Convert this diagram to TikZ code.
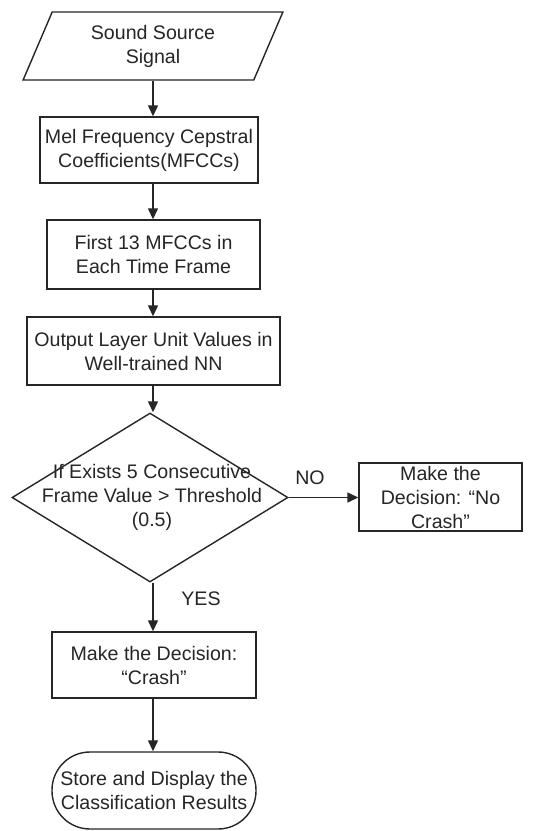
\documentclass[tikz,border=0pt]{standalone}
\usepackage{fontspec}
\setmainfont{Liberation Sans}
\usetikzlibrary{shapes.geometric,arrows.meta}
\definecolor{ink}{HTML}{262626}
\begin{document}
\begin{tikzpicture}[x=1pt,y=-1pt,
  every node/.style={font=\fontsize{19.6}{24}\selectfont, text=ink, align=center},
  procbox/.style={draw=ink, line width=1.4pt, rectangle, inner sep=0pt},
  flow/.style={draw=ink, line width=1.4pt, -{Triangle[length=11pt,width=10pt]}},
  lbl/.style={inner sep=0pt}]
  \useasboundingbox (0,0) rectangle (533,831);
  \fill[white] (0,0) rectangle (533,831);
  \coordinate (axis) at (153,0);

  \node[draw=ink, line width=1.4pt, trapezium, trapezium left angle=67,
        trapezium right angle=113, trapezium stretches=true,
        minimum width=260pt, minimum height=68pt, inner sep=0pt]
        (src) at (153,46) {Sound Source\\Signal};
  \node[procbox, minimum width=218pt, minimum height=66pt] (mfcc) at (149,150)
        {Mel Frequency Cepstral\\Coefficients(MFCCs)};
  \node[procbox, minimum width=213pt, minimum height=69pt] (first) at (153.5,254.5)
        {First 13 MFCCs in\\Each Time Frame};
  \node[procbox, minimum width=253pt, minimum height=68pt] (out) at (153.5,351)
        {Output Layer Unit Values in\\Well-trained NN};
  \node[draw=ink, line width=1.4pt, diamond, minimum width=276pt, minimum height=169pt,
        inner sep=0pt] (dec) at (150,497.5) {};
  \node[lbl] (dectext) at (152,497) {If Exists 5 Consecutive\\Frame Value > Threshold\\(0.5)};
  \node[procbox, minimum width=163pt, minimum height=68pt] (nocrash) at (440.5,497)
        {Make the\\Decision: “No\\Crash”};
  \node[procbox, minimum width=204pt, minimum height=66pt] (crash) at (154,665)
        {Make the Decision:\\“Crash”};
  \node[draw=ink, line width=1.4pt, rectangle, rounded corners=38pt,
        minimum width=204pt, minimum height=77pt, inner sep=0pt] (store) at (154,790.5)
        {Store and Display the\\Classification Results};

  \node[lbl] (no) at (310,478) {NO};
  \node[lbl] (yes) at (201,599) {YES};

  \draw[flow] (src.south -| axis) -- (mfcc.north -| axis);
  \draw[flow] (mfcc.south -| axis) -- (first.north -| axis);
  \draw[flow] (first.south -| axis) -- (out.north -| axis);
  \draw[flow] (out.south -| axis) -- (dec.north -| axis);
  \draw[flow] (dec.east) -- (nocrash.west |- dec.east);
  \draw[flow] (dec.south -| axis) -- (crash.north -| axis);
  \draw[flow] (crash.south -| axis) -- (store.north -| axis);
\end{tikzpicture}
\end{document}
